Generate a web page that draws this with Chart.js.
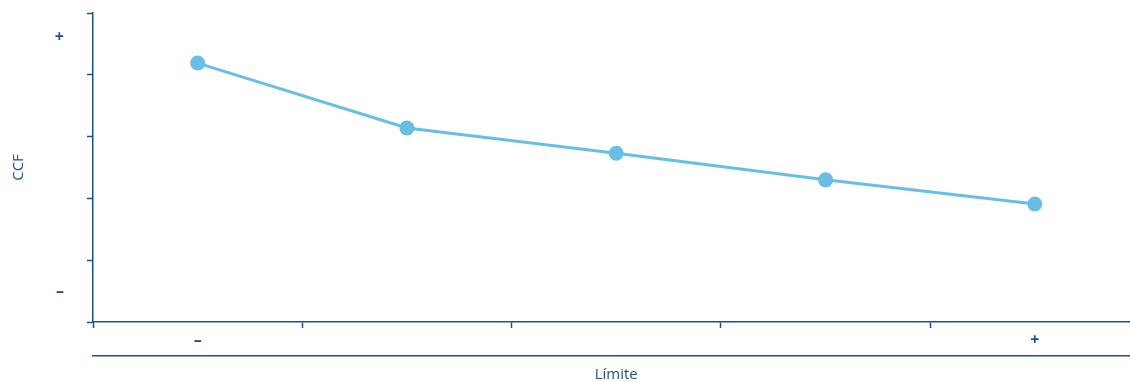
<!DOCTYPE html>
<html lang="es">
<head>
<meta charset="utf-8">
<title>CCF vs Límite</title>
<script src="https://cdn.jsdelivr.net/npm/chart.js@4.4.1/dist/chart.umd.min.js"></script>
<style>
  html, body { margin: 0; padding: 0; background: #fff; overflow: hidden; }
  #wrap { width: 1130px; height: 382px; overflow: hidden; }
</style>
</head>
<body>
<div id="wrap">
  <canvas id="ccfChart" width="1147" height="382"></canvas>
</div>
<script>
// five levels of the limit, from low to high
const levels = [1, 2, 3, 4, 5];
const xTickLabels = ['–', '', '', '', '+'];
const ccfValues = [4.19, 3.14, 2.73, 2.30, 1.91];

// y axis: plain tick marks on whole units, text marks in between
const yGridValues = [0, 1, 2, 3, 4, 5];
const yLabelValues = [0.5, 4.6];
const yTickLabels = ['–', '+'];

const axisColor = '#1d4f91';
const textColor = '#1f4e8c';
const lineColor = '#67bfe8';
const fontFamily = "'Open Sans', 'Noto Sans', sans-serif";

new Chart(document.getElementById('ccfChart'), {
  type: 'line',
  data: {
    labels: levels,
    datasets: [{
      label: 'CCF',
      data: ccfValues,
      borderColor: lineColor,
      backgroundColor: lineColor,
      borderWidth: 3,
      pointRadius: 7.5,
      pointHoverRadius: 7.5,
      pointBorderWidth: 0,
      tension: 0
    }]
  },
  options: {
    responsive: false,
    animation: false,
    layout: { padding: { top: 13, right: 2, left: 0, bottom: 0 } },
    plugins: {
      legend: { display: false },
      tooltip: { enabled: false }
    },
    scales: {
      x: {
        type: 'category',
        position: 'bottom',
        offset: true,
        grid: {
          offset: true,
          drawOnChartArea: false,
          drawTicks: true,
          tickLength: 6,
          tickColor: axisColor,
          tickWidth: 1.5
        },
        border: { display: true, color: axisColor, width: 1.5 },
        ticks: {
          color: textColor,
          padding: 3,
          maxRotation: 0,
          autoSkip: false,
          font: { family: fontFamily, size: 16, weight: 'bold' },
          callback: (value, index) => xTickLabels[index]
        },
        afterFit: scale => { scale.height = 34; }
      },
      // second bottom axis: its border is the rule above the title
      x2: {
        type: 'category',
        position: 'bottom',
        labels: levels,
        offset: true,
        grid: { drawOnChartArea: false, drawTicks: false },
        border: { display: true, color: axisColor, width: 1.5 },
        ticks: { display: false },
        title: {
          display: true,
          text: 'Límite',
          color: textColor,
          padding: { top: 11, bottom: 0 },
          font: { family: fontFamily, size: 15, lineHeight: 1 }
        },
        afterFit: scale => { scale.height = 26; }
      },
      y: {
        min: 0,
        max: 5,
        afterBuildTicks: scale => {
          scale.ticks = yGridValues.concat(yLabelValues)
            .sort((a, b) => a - b)
            .map(v => ({ value: v }));
        },
        grid: {
          drawOnChartArea: false,
          drawTicks: true,
          tickLength: 6,
          tickWidth: 1.5,
          tickColor: ctx => yLabelValues.includes(ctx.tick.value) ? 'rgba(0,0,0,0)' : axisColor
        },
        border: { display: true, color: axisColor, width: 1.5 },
        ticks: {
          color: textColor,
          padding: 23,
          autoSkip: false,
          font: { family: fontFamily, size: 16, weight: 'bold' },
          callback: value => {
            const i = yLabelValues.indexOf(value);
            return i >= 0 ? yTickLabels[i] : '';
          }
        },
        title: {
          display: true,
          text: 'CCF',
          color: textColor,
          padding: { top: 10, bottom: 0 },
          font: { family: fontFamily, size: 15 }
        },
        afterFit: scale => {
          scale.width = 93;
          // the label padding should not push the plot down from the top
          scale.paddingTop = 0;
          scale.paddingBottom = 0;
        }
      }
    }
  }
});
</script>
</body>
</html>
